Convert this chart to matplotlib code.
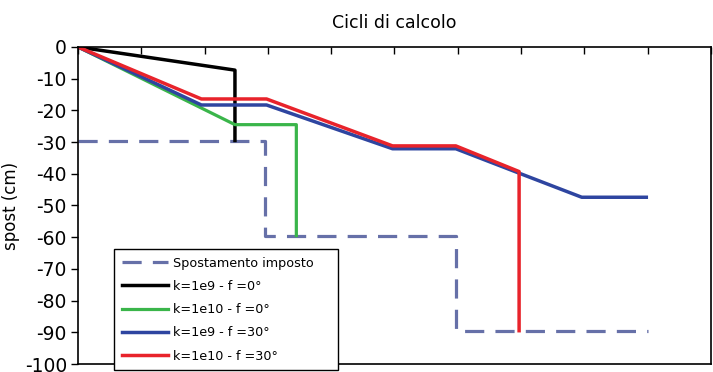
import numpy as np
import matplotlib
matplotlib.use("Agg")
import matplotlib.pyplot as plt

# cycle index (top axis ticks, no labels) and displacement in cm
imposto_x = [0, 2.96, 2.96, 5.97, 5.97, 9.0]
imposto_y = [-29.5, -29.5, -59.5, -59.5, -89.5, -89.5]

k9_f0_x = [0, 2.48, 2.48]
k9_f0_y = [0, -7.3, -29.5]

k10_f0_x = [0, 2.48, 3.45, 3.45]
k10_f0_y = [0, -24.5, -24.5, -59.5]

k9_f30_x = [0, 1.95, 2.98, 4.97, 5.97, 6.97, 7.96, 8.98]
k9_f30_y = [0, -18.3, -18.3, -32.1, -32.1, -39.8, -47.4, -47.4]

k10_f30_x = [0, 1.95, 2.98, 4.97, 5.97, 6.97, 6.97]
k10_f30_y = [0, -16.4, -16.4, -31.2, -31.2, -39.3, -89.5]

labels = ["Spostamento imposto", "k=1e9 - f =0°", "k=1e10 - f =0°",
          "k=1e9 - f =30°", "k=1e10 - f =30°"]

plt.rcParams['font.family'] = ['DejaVu Sans']
plt.rcParams['axes.unicode_minus'] = False

fig = plt.figure(figsize=(7.13, 3.72), dpi=100)
ax = fig.add_axes([0.1094, 0.0215, 0.8876, 0.8522])

ax.plot(imposto_x, imposto_y, color='#6670a8', lw=2.3, dashes=(6, 3.5), label=labels[0])
ax.plot(k9_f0_x, k9_f0_y, color='black', lw=2.5, label=labels[1])
ax.plot(k10_f0_x, k10_f0_y, color='#3ab54a', lw=2.3, label=labels[2])
ax.plot(k9_f30_x, k9_f30_y, color='#2e45a0', lw=2.5, label=labels[3])
ax.plot(k10_f30_x, k10_f30_y, color='#e8232b', lw=2.5, label=labels[4])

ax.set_xlim(0, 10)
ax.set_ylim(-100, 0)
ax.set_yticks(np.arange(-100, 1, 10))
ax.set_xticks(np.arange(0, 11, 1))
ax.xaxis.tick_top()
ax.tick_params(axis='x', direction='in', length=5, labeltop=False, width=1)
ax.tick_params(axis='y', direction='out', length=5, labelsize=13.5, width=1, pad=3)
for s in ax.spines.values():
    s.set_linewidth(1.2)

ax.set_ylabel("spost (cm)", fontsize=12)
ax.yaxis.set_label_coords(-(78 - 20) / 633, 0.5)
ax.set_title("Cicli di calcolo", fontsize=12.5, pad=14)

leg_top = 1 - 249 / 372
ax.legend(loc='upper left', bbox_to_anchor=(114 / 713, leg_top - 0.4, 224 / 713, 0.4),
          bbox_transform=fig.transFigure, mode='expand', fontsize=9.2, fancybox=False,
          edgecolor='black', framealpha=1, handlelength=3.6, handletextpad=0.4,
          labelspacing=0.8, borderpad=0.6, borderaxespad=0)

fig.savefig("out.png", dpi=100)
